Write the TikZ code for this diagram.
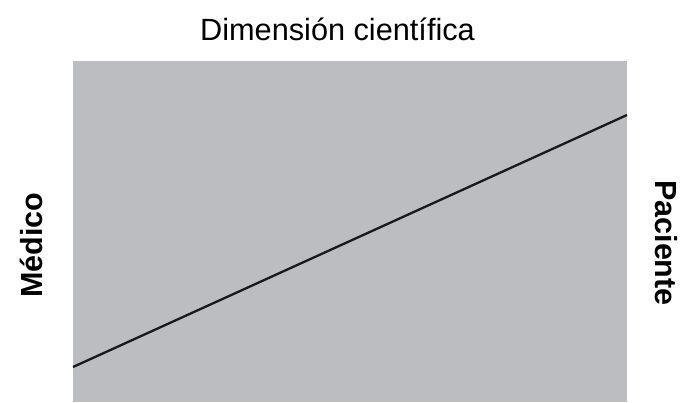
\documentclass[tikz,border=0pt]{standalone}
\usepackage{fontspec}
\setmainfont{Liberation Sans}
\definecolor{panelgray}{RGB}{188,189,192}
\begin{document}
\begin{tikzpicture}[x=1pt,y=-1pt,
  lbl/.style={inner sep=0pt,font=\fontsize{30.7}{34}\selectfont},
  sidelbl/.style={inner sep=0pt,font=\fontsize{30.5}{34}\selectfont\bfseries}]
\useasboundingbox (0,0) rectangle (680,402);
\fill[panelgray] (73,61) rectangle (627,402);
\coordinate (lo) at (73,367);
\coordinate (hi) at (627,115);
\draw[line width=2.3pt,black!90] (lo) -- (hi);
\node[lbl,anchor=base] (title) at (337.5,40) {Dimensión científica};
\node[sidelbl,anchor=base,rotate=90] (medico) at (42,245) {Médico};
\node[sidelbl,anchor=base,rotate=-90] (paciente) at (655,243) {Paciente};
\end{tikzpicture}
\end{document}
